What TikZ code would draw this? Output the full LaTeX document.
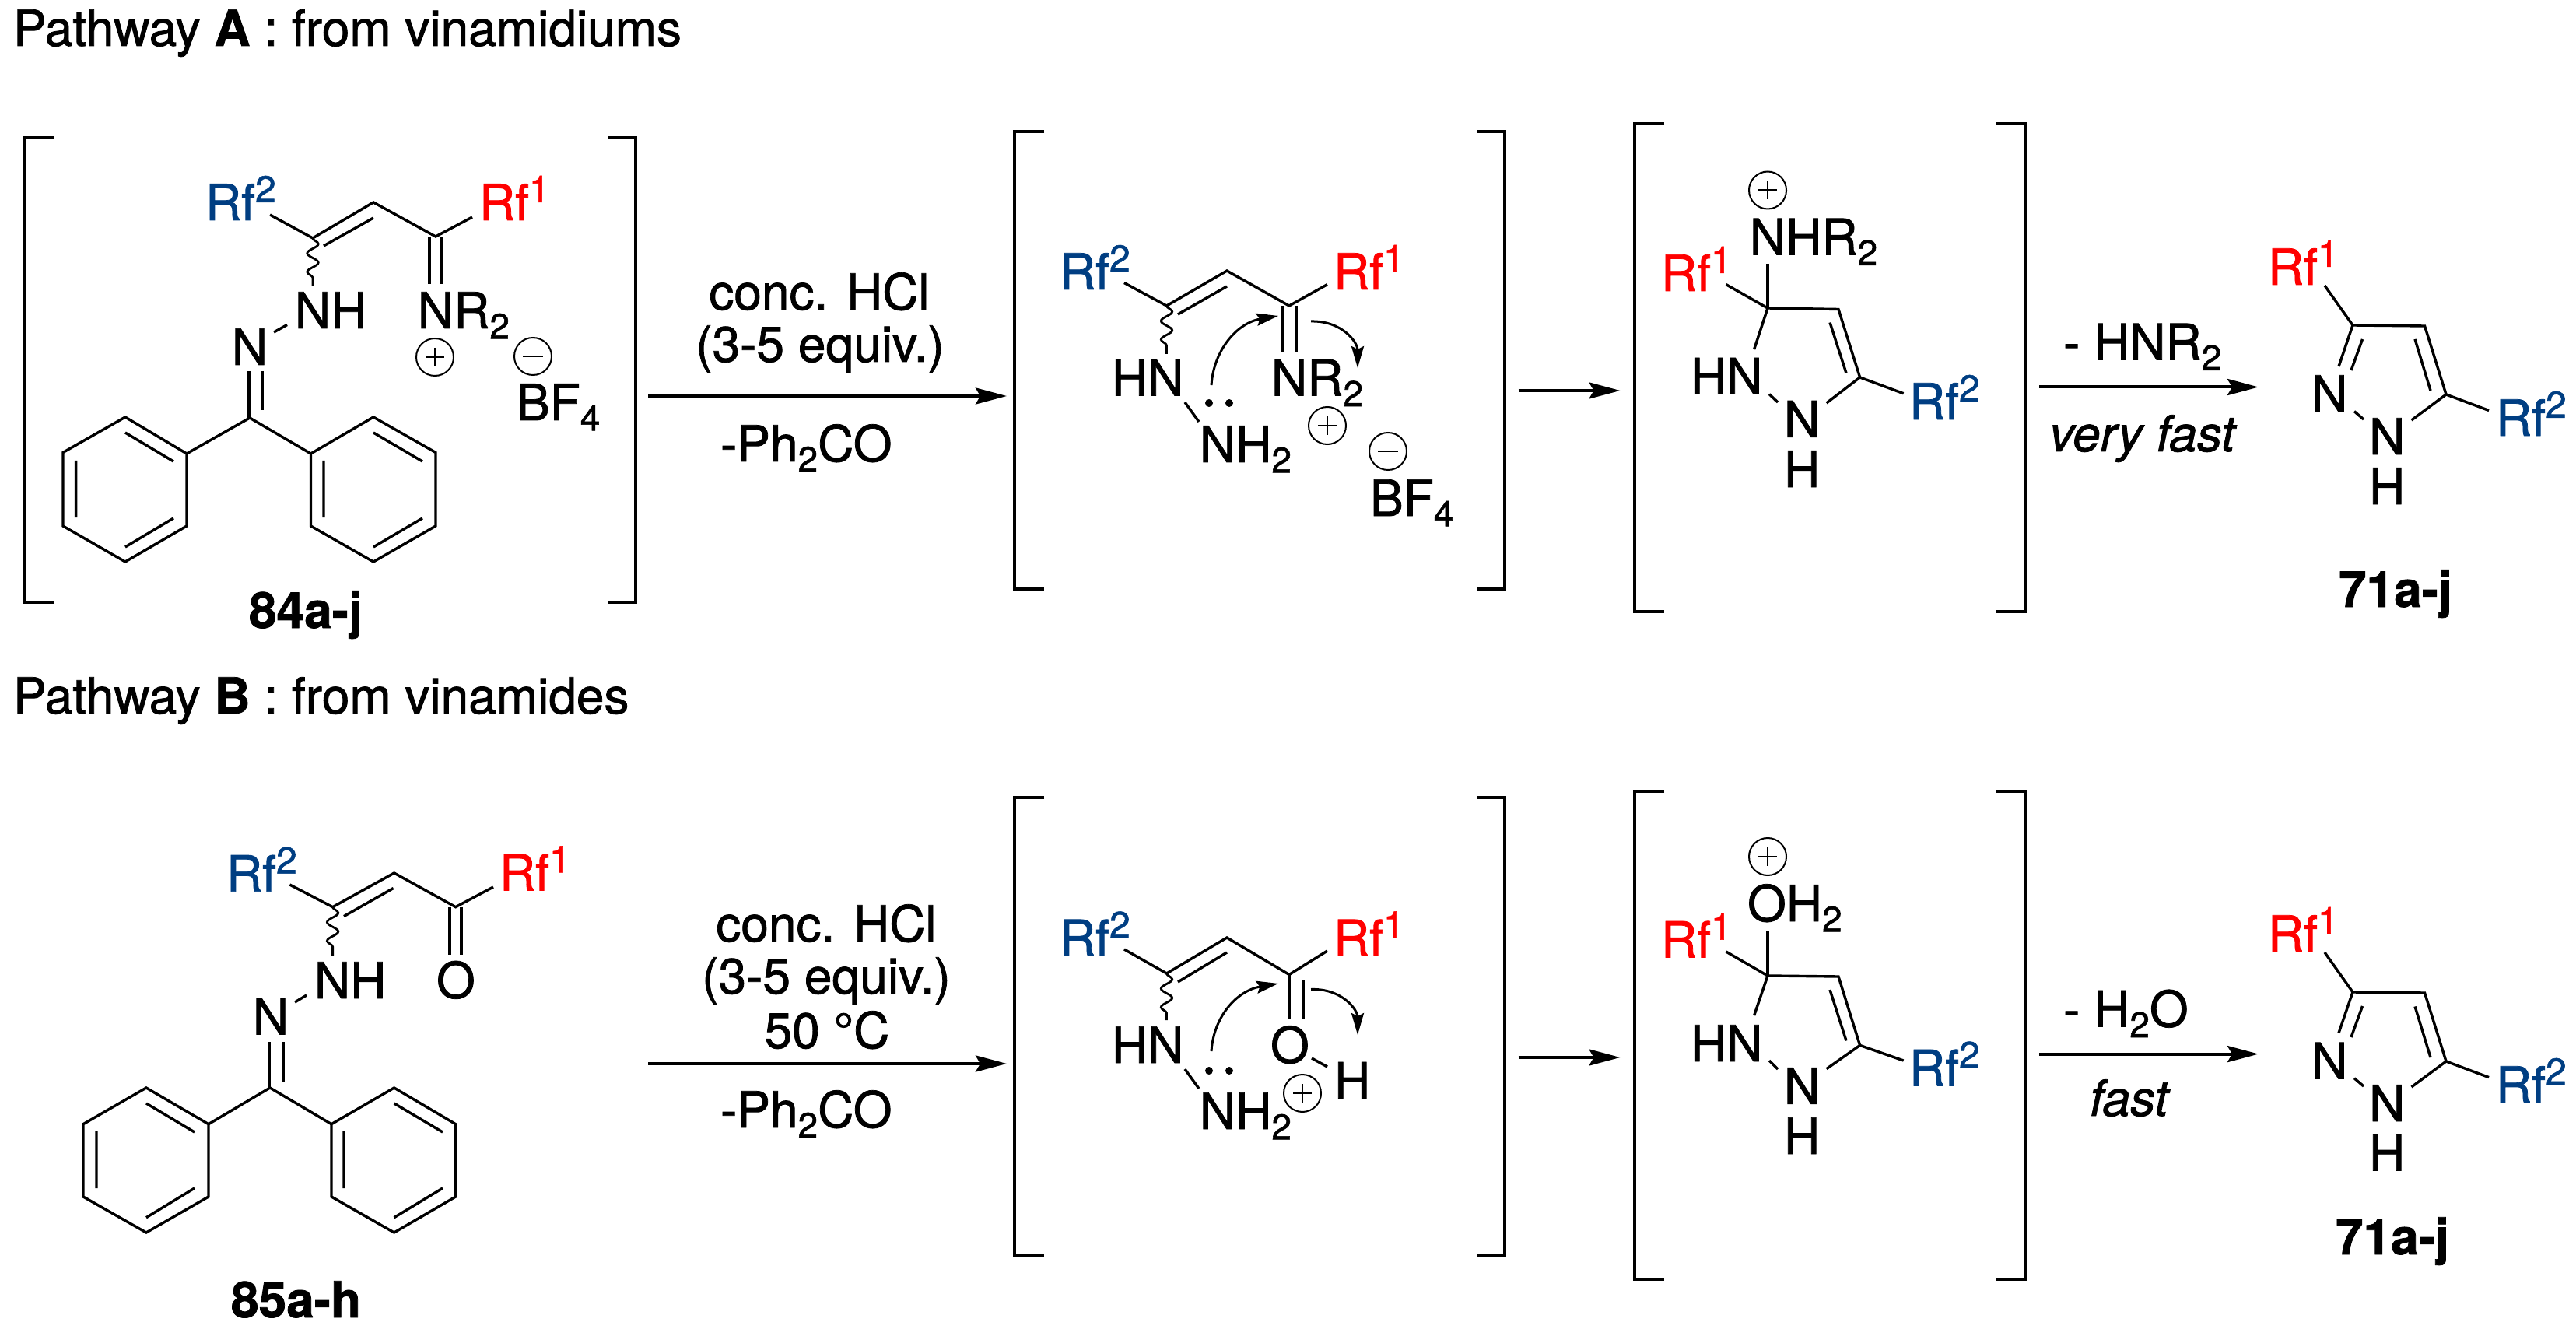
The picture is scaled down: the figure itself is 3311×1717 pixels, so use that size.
\documentclass[tikz,border=0pt]{standalone}
\usepackage{fontspec}
\setmainfont[FakeBold=1.2]{TeX Gyre Heros}
\usetikzlibrary{arrows.meta,decorations.pathmorphing}
\definecolor{rfred}{RGB}{255,0,0}
\definecolor{rfblue}{RGB}{0,62,130}
\newcommand{\subs}[1]{\raisebox{-0.21em}{\fontsize{23}{24}\selectfont #1}}
\newcommand{\sups}[1]{\raisebox{0.36em}{\fontsize{24}{25}\selectfont #1}}
\newcommand{\Rfa}{\textcolor{rfred}{Rf\sups{1}}}
\newcommand{\Rfb}{\textcolor{rfblue}{Rf\sups{2}}}
\newcommand{\plusc}[2]{\draw[chgline] (#1,#2) circle[radius=24];\draw[chgbar] (#1-12,#2) -- (#1+12,#2) (#1,#2-12) -- (#1,#2+12);}
\newcommand{\minusc}[2]{\draw[chgline] (#1,#2) circle[radius=24];\draw[chgbar] (#1-13,#2) -- (#1+13,#2);}
\tikzset{
  every node/.style={font=\fontsize{32}{36}\selectfont},
  txt/.style={anchor=base west,inner sep=0pt,outer sep=0pt},
  ctxt/.style={anchor=base,inner sep=0pt,outer sep=0pt},
  bond/.style={line width=1.7pt,line cap=butt,line join=miter},
  brk/.style={line width=2pt,line join=miter},
  wavy/.style={line width=1.4pt,decorate,decoration={snake,segment length=12pt,amplitude=3.6pt}},
  chgline/.style={line width=1pt},
  chgbar/.style={line width=1.4pt},
  rxn/.style={line width=2pt,-{Stealth[length=20pt,width=10.5pt,inset=3pt]}},
  push/.style={line width=1.5pt,-{Stealth[length=14pt,width=8pt,inset=2pt]}},
  dot/.style={fill=black,draw=none}
}
\begin{document}
\begin{tikzpicture}[x=0.5pt,y=-0.5pt]
\path[use as bounding box] (0,0) rectangle (3311,1717);

% ---------- titles
\node[txt] (titleA) at (17,59) {Pathway \textbf{A} : from vinamidiums};
\node[txt] (titleB) at (17,917) {Pathway \textbf{B} : from vinamides};

% ---------- 84a-j
\draw[brk] (69,177) -- (31,177) -- (31,774) -- (69,774);
\draw[brk] (781,177) -- (817,177) -- (817,774) -- (781,774);
\node[txt] (a1r2) at (264,283) {\Rfb};
\node[txt] (a1r1) at (616,283) {\Rfa};
\draw[bond] (347,276) -- (402,306) -- (480,260) -- (560,304) -- (607,279);
\draw[bond] (416,316) -- (480,280);
\draw[bond] (552,304) -- (552,365) (568,304) -- (568,365);
\draw[wavy] (402,306) -- (402,367);
\node[txt] (a1nh) at (379,422) {NH};
\node[txt] (a1n) at (298,469) {N};
\node[txt] (a1nr) at (537,422) {NR\subs{2}};
\node[txt] (a1bf) at (664,540) {BF\subs{4}};
\plusc{559}{459}
\minusc{685}{458}
\draw[bond] (352,427) -- (369,417.5);
\draw[bond] (320,477) -- (320,537) (337,477) -- (337,527);
\draw[bond] (240,583) -- (321,537) -- (399.5,583);
\draw[bond] (240,583) -- (161,536) -- (81,581.5) -- (81,676) -- (161,722) -- (240,676) -- cycle;
\draw[bond] (161,556) -- (223,593) (97.6,592) -- (97.6,665) (161,703) -- (223,666);
\draw[bond] (399.5,583) -- (480,536) -- (560,581.5) -- (560,676) -- (480,722) -- (399.5,676) -- cycle;
\draw[bond] (480,556) -- (543,593) (416,592) -- (416,665) (480,703) -- (543,666);
\node[txt] (a1lab) at (320,807) {\textbf{84a-j}};

% ---------- first arrow A
\coordinate (a1s) at (833,509);
\coordinate (a1e) at (1294,509);
\draw[rxn] (a1s) -- (a1e);
\node[ctxt] (a1t1) at (1053,398) {conc. HCl};
\node[ctxt] (a1t2) at (1054,465) {(3-5 equiv.)};
\node[txt] (a1t3) at (926,593) {-Ph\subs{2}CO};

% ---------- intermediate A2
\draw[brk] (1342,169) -- (1304,169) -- (1304,756.5) -- (1342,756.5);
\draw[brk] (1898,169) -- (1934,169) -- (1934,756.5) -- (1898,756.5);
\node[txt] (a2r2) at (1362,372) {\Rfb};
\node[txt] (a2r1) at (1714,372) {\Rfa};
\draw[bond] (1445,363.5) -- (1499.5,393) -- (1577,348) -- (1657,393) -- (1706,365.6);
\draw[bond] (1514,404) -- (1577,368);
\draw[bond] (1648.5,393) -- (1648.5,453.5) (1666.6,393) -- (1666.6,453.5);
\draw[wavy] (1499.5,393) -- (1499.5,455);
\node[txt] (a2hn) at (1429,508.6) {HN};
\node[txt] (a2nr) at (1634,508.6) {NR\subs{2}};
\node[txt] (a2nh) at (1542,594) {NH\subs{2}};
\node[txt] (a2bf) at (1761,663) {BF\subs{4}};
\draw[bond] (1523,517) -- (1541,542);
\fill[dot] (1554,518) circle[radius=5] (1580,518) circle[radius=5];
\plusc{1706}{547}
\minusc{1784}{580}
\coordinate (a2p1s) at (1557,495);
\coordinate (a2p1e) at (1643,406);
\draw[push] (a2p1s) .. controls (1560,450) and (1590,415) .. (a2p1e);
\coordinate (a2p2s) at (1685,413);
\coordinate (a2p2e) at (1745,473);
\draw[push] (a2p2s) .. controls (1725,412) and (1745,440) .. (a2p2e);
\coordinate (a2as) at (1951.5,502);
\coordinate (a2ae) at (2082.5,502);
\draw[rxn] (a2as) -- (a2ae);

% ---------- intermediate A3
\draw[brk] (2139,159) -- (2100.5,159) -- (2100.5,786) -- (2139,786);
\draw[brk] (2565,159) -- (2603.4,159) -- (2603.4,786) -- (2565,786);
\plusc{2272}{244.5}
\node[txt] (a3nh) at (2249,327.5) {NHR\subs{2}};
\node[txt] (a3r1) at (2135,374) {\Rfa};
\node[txt] (a3r2) at (2454,539) {\Rfb};
\node[txt] (a3hn) at (2173,506.6) {HN};
\node[txt] (a3n) at (2293,561.7) {N};
\node[txt] (a3h) at (2293,626) {H};
\draw[bond] (2272,339) -- (2272,396);
\draw[bond] (2218.5,365.6) -- (2272,396) -- (2363,397.5) -- (2390.6,485) -- (2347.6,518);
\draw[bond] (2352,414.5) -- (2373,479.6);
\draw[bond] (2390.6,485) -- (2446.6,505.7);
\draw[bond] (2272,396) -- (2254.6,449);
\draw[bond] (2274,506.6) -- (2285,517);

% ---------- arrow to 71 (A)
\coordinate (a3as) at (2621,497.5);
\coordinate (a3ae) at (2903,497.5);
\draw[rxn] (a3as) -- (a3ae);
\node[txt] (a3t1) at (2652,462.5) {- HNR\subs{2}};
\node[txt] (a3t2) at (2634,580) {\textit{very fast}};

% ---------- 71a-j (A)
\node[txt] (a4r1) at (2915,366) {\Rfa};
\node[txt] (a4r2) at (3208,560) {\Rfb};
\node[txt] (a4n1) at (2971,529) {N};
\node[txt] (a4n2) at (3045,584) {N};
\node[txt] (a4h) at (3045,648) {H};
\draw[bond] (2988,367) -- (3024,418) -- (3116.5,419) -- (3144,507) -- (3199,527.5);
\draw[bond] (3006,471) -- (3024,418);
\draw[bond] (3036.5,436) -- (3022,476);
\draw[bond] (3104,436) -- (3124,502);
\draw[bond] (3144,507) -- (3099.5,540);
\draw[bond] (3026,528.6) -- (3038,539);
\node[txt] (a4lab) at (3006,780) {\textbf{71a-j}};

% ---------- 85a-h
\node[txt] (b1r2) at (291,1145.7) {\Rfb};
\node[txt] (b1r1) at (642,1144.4) {\Rfa};
\draw[bond] (372.4,1137) -- (427.6,1165.7) -- (506.6,1122) -- (585.7,1165.7) -- (634,1140);
\draw[bond] (442,1177.6) -- (505.6,1141.5);
\draw[bond] (578,1165.7) -- (578,1226.5) (593,1165.7) -- (593,1226.5);
\draw[wavy] (427.6,1165.7) -- (427.6,1228.6);
\node[txt] (b1o) at (561,1282.7) {O};
\node[txt] (b1nh) at (404,1283) {NH};
\node[txt] (b1n) at (325,1329.5) {N};
\draw[bond] (379,1288) -- (394,1279);
\draw[bond] (346,1339) -- (346,1398) (364,1339) -- (364,1390);
\draw[bond] (268,1444.7) -- (347,1398) -- (426,1444.7);
\draw[bond] (268,1444.7) -- (188,1398) -- (107,1444.7) -- (107,1538) -- (188,1584) -- (268,1538) -- cycle;
\draw[bond] (188,1418) -- (250,1455) (124,1454) -- (124,1527) (188,1564.7) -- (250,1527);
\draw[bond] (426,1444.7) -- (506.6,1398) -- (585.7,1444.7) -- (585.7,1538) -- (506.6,1584) -- (426,1538) -- cycle;
\draw[bond] (506.6,1418) -- (569,1455) (442,1454) -- (442,1527) (506.6,1564.7) -- (569,1527);
\node[txt] (b1lab) at (297,1693) {\textbf{85a-h}};

% ---------- first arrow B
\coordinate (b1s) at (833,1367);
\coordinate (b1e) at (1294,1367);
\draw[rxn] (b1s) -- (b1e);
\node[ctxt] (b1t1) at (1062,1210) {conc. HCl};
\node[ctxt] (b1t2) at (1062,1277) {(3-5 equiv.)};
\node[ctxt] (b1t3) at (1063,1347) {50 °C};
\node[txt] (b1t4) at (926,1449) {-Ph\subs{2}CO};

% ---------- intermediate B2
\draw[brk] (1342,1025) -- (1304,1025) -- (1304,1613) -- (1342,1613);
\draw[brk] (1898,1025) -- (1934,1025) -- (1934,1613) -- (1898,1613);
\node[txt] (b2r2) at (1362,1228.5) {\Rfb};
\node[txt] (b2r1) at (1714,1228.5) {\Rfa};
\draw[bond] (1445,1220) -- (1499.5,1251) -- (1577,1205) -- (1657,1252.5) -- (1706,1222);
\draw[bond] (1514,1262) -- (1577,1224);
\draw[bond] (1657,1252.5) -- (1657,1309) (1675,1260) -- (1675,1309);
\draw[wavy] (1499.5,1251) -- (1499.5,1311);
\node[txt] (b2o) at (1633,1366) {O};
\node[txt] (b2h) at (1715,1411.6) {H};
\draw[bond] (1686,1360) -- (1706,1371);
\node[txt] (b2hn) at (1429,1366) {HN};
\node[txt] (b2nh) at (1542,1451) {NH\subs{2}};
\draw[bond] (1523,1374) -- (1541,1399);
\fill[dot] (1554,1376) circle[radius=5] (1580,1376) circle[radius=5];
\plusc{1674}{1405}
\coordinate (b2p1s) at (1557,1351);
\coordinate (b2p1e) at (1643,1264);
\draw[push] (b2p1s) .. controls (1560,1306) and (1590,1273) .. (b2p1e);
\coordinate (b2p2s) at (1685,1271.5);
\coordinate (b2p2e) at (1745,1330);
\draw[push] (b2p2s) .. controls (1725,1270) and (1745,1298) .. (b2p2e);
\coordinate (b2as) at (1951.5,1359);
\coordinate (b2ae) at (2082.5,1359);
\draw[rxn] (b2as) -- (b2ae);

% ---------- intermediate B3
\draw[brk] (2139,1017) -- (2100.5,1017) -- (2100.5,1643.6) -- (2139,1643.6);
\draw[brk] (2565,1017) -- (2603.4,1017) -- (2603.4,1643.6) -- (2565,1643.6);
\plusc{2272}{1101}
\node[txt] (b3oh) at (2246,1184) {OH\subs{2}};
\node[txt] (b3r1) at (2135,1230.6) {\Rfa};
\node[txt] (b3r2) at (2454,1395.6) {\Rfb};
\node[txt] (b3hn) at (2173,1364) {HN};
\node[txt] (b3n) at (2293,1418.8) {N};
\node[txt] (b3h) at (2293,1483) {H};
\draw[bond] (2272,1196.5) -- (2272,1254);
\draw[bond] (2218.5,1223) -- (2272,1254) -- (2363,1255) -- (2390.6,1343.4) -- (2347.6,1373.7);
\draw[bond] (2352,1272) -- (2373,1337.5);
\draw[bond] (2390.6,1343.4) -- (2446.6,1363);
\draw[bond] (2272,1254) -- (2254.6,1305);
\draw[bond] (2274,1363) -- (2285,1374);

% ---------- arrow to 71 (B)
\coordinate (b3as) at (2621,1354.6);
\coordinate (b3ae) at (2903,1354.6);
\draw[rxn] (b3as) -- (b3ae);
\node[txt] (b3t1) at (2652,1319.6) {- H\subs{2}O};
\node[txt] (b3t2) at (2686,1434) {\textit{fast}};

% ---------- 71a-j (B)
\node[txt] (b4r1) at (2915,1223) {\Rfa};
\node[txt] (b4r2) at (3208,1417) {\Rfb};
\node[txt] (b4n1) at (2971,1386.4) {N};
\node[txt] (b4n2) at (3045,1441) {N};
\node[txt] (b4h) at (3045,1504.6) {H};
\draw[bond] (2988,1224) -- (3024,1275) -- (3116.5,1276) -- (3144,1364) -- (3199,1384.6);
\draw[bond] (3006,1327.5) -- (3024,1275);
\draw[bond] (3036.5,1293) -- (3022,1333);
\draw[bond] (3104,1293.5) -- (3124,1359);
\draw[bond] (3144,1364) -- (3099.5,1397);
\draw[bond] (3026,1385.7) -- (3038,1396);
\node[txt] (b4lab) at (3002,1612) {\textbf{71a-j}};
\end{tikzpicture}
\end{document}
